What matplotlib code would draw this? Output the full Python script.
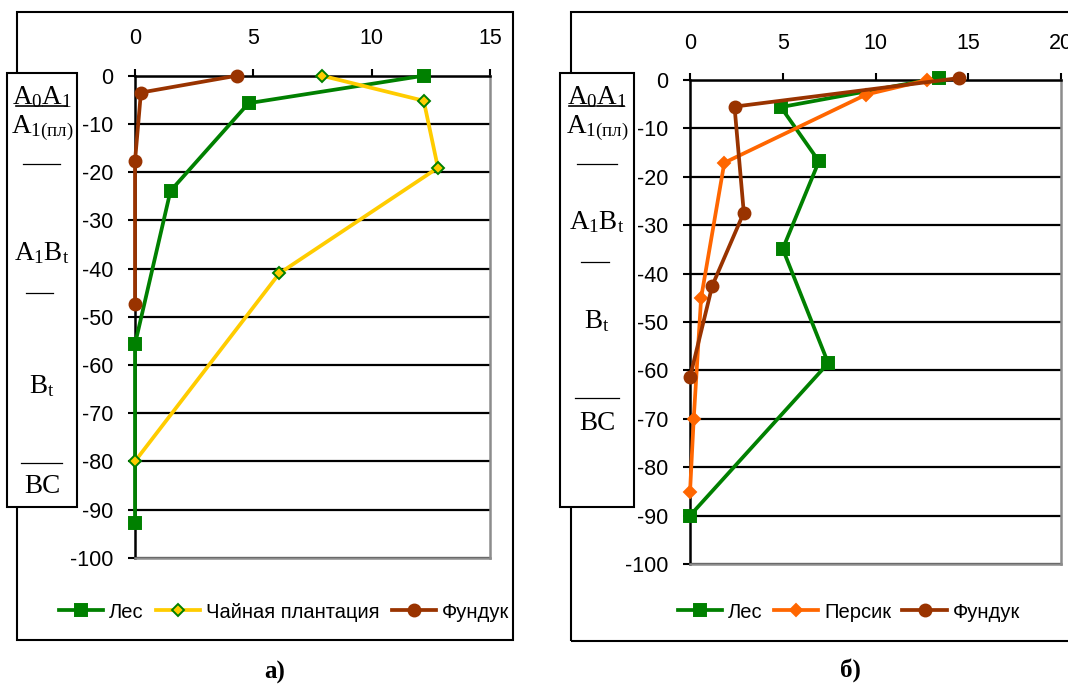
import matplotlib
matplotlib.use("Agg")
import matplotlib.pyplot as plt
from matplotlib.patches import Rectangle
from matplotlib.lines import Line2D

# Depth profiles (x - content, y - depth, cm)
# а) Лес / Чайная плантация / Фундук
les_a_x = [12.2, 4.8, 1.5, 0, 0]
les_a_y = [0, -5.7, -23.9, -55.7, -92.8]
tea_x = [7.9, 12.2, 12.8, 6.1, 0]
tea_y = [0, -5.2, -19.1, -41.0, -80]
fund_a_x = [4.3, 0.25, 0, 0]
fund_a_y = [0, -3.5, -17.7, -47.4]

# б) Лес / Персик / Фундук
les_b_x = [13.4, 4.9, 6.95, 5.0, 7.45, 0]
les_b_y = [0.4, -5.6, -16.8, -34.9, -58.5, -90]
persik_x = [12.8, 9.5, 1.85, 0.6, 0.2, 0]
persik_y = [0, -3.0, -17.1, -45, -70, -85.2]
fund_b_x = [14.5, 2.4, 2.9, 1.2, 0]
fund_b_y = [0.4, -5.5, -27.4, -42.5, -61.4]

y_ticks = list(range(-100, 1, 10))

GREEN = "#008000"
YELLOW = "#FFCC00"
BROWN = "#993300"
ORANGE = "#FF6600"

plt.rcParams["font.family"] = ["Liberation Sans", "DejaVu Sans"]
plt.rcParams["axes.unicode_minus"] = False
plt.rcParams["mathtext.fontset"] = "custom"
plt.rcParams["mathtext.rm"] = "Liberation Serif"
plt.rcParams["mathtext.it"] = "Liberation Serif:italic"
plt.rcParams["mathtext.bf"] = "Liberation Serif:bold"

W, H = 1068, 685
fig = plt.figure(figsize=(W / 100, H / 100), dpi=100)


def fx(x):
    return x / W


def fy(y):
    return 1 - y / H


def frame(x0, y0, x1, y1, z=1, fill=False):
    fig.add_artist(Rectangle((fx(x0), fy(y1)), fx(x1) - fx(x0), fy(y0) - fy(y1),
                             transform=fig.transFigure, fill=fill, facecolor="white",
                             edgecolor="black", lw=1.5, zorder=z))


def hline(x0, x1, y, lw=1.0):
    fig.add_artist(Line2D([fx(x0), fx(x1)], [fy(y), fy(y)], transform=fig.transFigure,
                          color="black", lw=lw, zorder=6))


def make_axes(left, right, top, bottom, xmax):
    ax = fig.add_axes([fx(left), fy(bottom), fx(right) - fx(left), fy(top) - fy(bottom)])
    ax.set_xlim(0, xmax)
    ax.set_ylim(-100, 0)
    ax.set_xticks(range(0, xmax + 1, 5))
    ax.set_yticks(y_ticks)
    ax.xaxis.tick_top()
    ax.tick_params(axis="x", direction="out", length=5, width=1.5, pad=14, labelsize=15.5)
    ax.tick_params(axis="y", direction="out", length=5, width=1.5, pad=10.5, labelsize=15.5)
    ax.set_axisbelow(True)
    ax.yaxis.grid(True, color="black", lw=1.6)
    ax.xaxis.grid(False)
    for s in ("left", "top"):
        ax.spines[s].set_color("black")
        ax.spines[s].set_linewidth(1.8)
    for s in ("right", "bottom"):
        ax.spines[s].set_color("#8c8c8c")
        ax.spines[s].set_linewidth(1.8)
    return ax


def series(ax, x, y, color, marker, ms, mfc=None, mec=None, label=None):
    return ax.plot(x, y, color=color, lw=2.7, marker=marker, ms=ms,
                   mfc=mfc or color, mec=mec or color, mew=1.4,
                   label=label, zorder=4, clip_on=False)[0]


# outer frames
frame(17, 12, 513, 640)
frame(571, 12, 1085, 641)

# panel а)
ax1 = make_axes(135, 490, 75.7, 557.7, 15)
h1 = [
    series(ax1, les_a_x, les_a_y, GREEN, "s", 8.2, label="Лес"),
    series(ax1, tea_x, tea_y, YELLOW, "D", 6.2, mfc=YELLOW, mec=GREEN, label="Чайная плантация"),
    series(ax1, fund_a_x, fund_a_y, BROWN, "o", 8.6, label="Фундук"),
]
fig.legend(handles=h1, loc="center", bbox_to_anchor=(fx(284), fy(612)), ncol=3,
           frameon=False, fontsize=14.5, handlelength=2.2, handletextpad=0.3,
           columnspacing=0.6, borderaxespad=0)

# panel б)
ax2 = make_axes(690, 1061, 80, 564, 20)
h2 = [
    series(ax2, les_b_x, les_b_y, GREEN, "s", 8.2, label="Лес"),
    series(ax2, persik_x, persik_y, ORANGE, "D", 6.4, label="Персик"),
    series(ax2, fund_b_x, fund_b_y, BROWN, "o", 8.6, label="Фундук"),
]
fig.legend(handles=h2, loc="center", bbox_to_anchor=(fx(849), fy(612)), ncol=3,
           frameon=False, fontsize=14.5, handlelength=2.2, handletextpad=0.3,
           columnspacing=0.55, borderaxespad=0)

# horizon boxes
serif = dict(ha="center", va="baseline", fontsize=19.5, zorder=7,
             family=["Liberation Serif", "DejaVu Serif"])


def horizons(x0, x1, base, lines):
    frame(x0, 73, x1, 507, z=5, fill=True)
    cx = (x0 + x1) / 2
    fig.text(fx(cx), fy(base[0]), r"$\mathrm{A_0A_1}$", **serif)
    fig.text(fx(cx), fy(base[1]), r"$\mathrm{A_{1(пл)}}$", **serif)
    fig.text(fx(cx), fy(base[2]), r"$\mathrm{A_1B_t}$", **serif)
    fig.text(fx(cx), fy(base[3]), r"$\mathrm{B_t}$", **serif)
    fig.text(fx(cx), fy(base[4]), "BC", **serif)
    for (a, b, y, lw) in lines:
        hline(a, b, y, lw)


horizons(7, 77, [104, 133, 260, 393, 493],
         [(16, 41.5, 106, 1.2), (43, 67, 106, 1.2),
          (23, 60, 164, 0.9), (26, 53, 293, 0.9), (21, 62, 463, 0.9)])
horizons(560, 634, [104, 133, 229, 328, 430],
         [(569, 595.5, 106, 1.2), (597, 624, 106, 1.2),
          (577, 617, 164, 0.9), (581, 609, 262, 0.9), (575, 619, 398, 0.9)])

# panel captions
cap = dict(ha="center", va="center", fontsize=18, fontweight="bold",
           family=["Liberation Serif", "DejaVu Serif"])
fig.text(fx(275), fy(672), "а)", **cap)
fig.text(fx(850), fy(670), "б)", **cap)

fig.savefig("out.png", dpi=100)
